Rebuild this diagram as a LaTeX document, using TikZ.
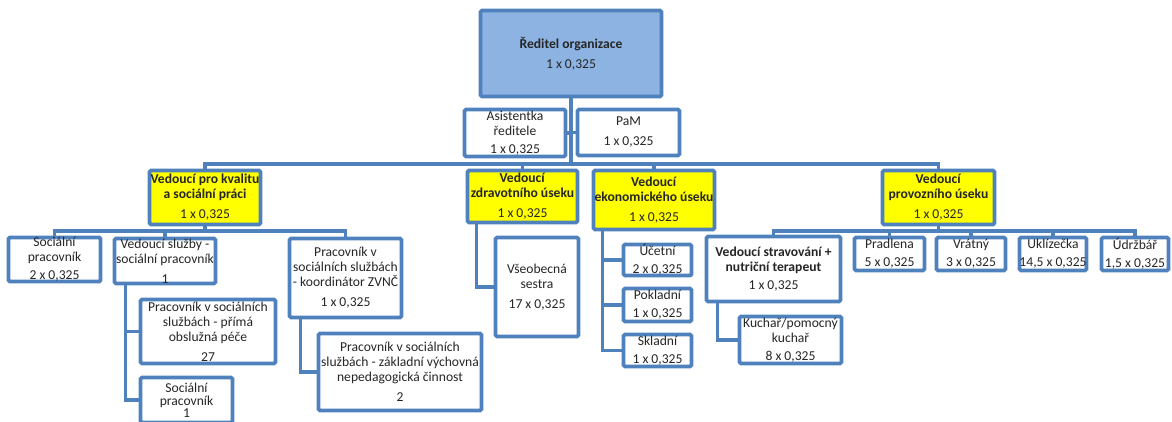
\documentclass[tikz,border=0pt]{standalone}
\usepackage{fontspec}
\setmainfont{Carlito}
\usepackage{tikz}

\definecolor{ramec}{HTML}{4F81BD}
\definecolor{modra}{HTML}{8DB3E2}
\definecolor{zluta}{HTML}{FFFF00}

\begin{document}
\begin{tikzpicture}[x=1pt,y=-1pt,
  box/.style={draw=ramec,line width=3.8pt,fill=white,rounded corners=1.5pt,align=center,inner sep=0pt,text=black!85,font=\fontsize{13.6}{15}\selectfont},
  vedouci/.style={box,fill=zluta},
  rozm/.style 2 args={minimum width=#1pt,minimum height=#2pt},
  spoj/.style={draw=ramec,line width=3.2pt}]

\useasboundingbox (0,0) rectangle (1172,421);
\clip (0,0) rectangle (1172,421);

\node[box,fill=modra,rozm={181}{86}] (red) at (571,53.5) {\textbf{Ředitel organizace}\\[5pt]1 x 0,325};
\node[box,rozm={101}{47}] (asist) at (515,133) {Asistentka\\ředitele\\[3pt]1 x 0,325};
\node[box,rozm={102}{46}] (pam) at (628.5,132.5) {PaM\\[5pt]1 x 0,325};

\node[vedouci,rozm={111}{54}] (kval) at (205,197.5) {\textbf{Vedoucí pro kvalitu}\\\textbf{a sociální práci}\\[5pt]1 x 0,325};
\node[vedouci,rozm={110}{52}] (zdrav) at (522.5,196.5) {\textbf{Vedoucí}\\\textbf{zdravotního úseku}\\[5pt]1 x 0,325};
\node[vedouci,rozm={121}{59}] (ekon) at (654,200) {\textbf{Vedoucí}\\\textbf{ekonomického úseku}\\[5pt]1 x 0,325};
\node[vedouci,rozm={112}{54}] (prov) at (938.5,197.5) {\textbf{Vedoucí}\\\textbf{provozního úseku}\\[5pt]1 x 0,325};

\node[box,rozm={92}{44}] (soc1) at (54.5,259.5) {Sociální\\pracovník\\[3pt]2 x 0,325};
\node[box,rozm={101}{45}] (sluz) at (165,261) {Vedoucí služby -\\sociální pracovník\\[5pt]1};
\node[box,rozm={112}{79}] (zvnc) at (345.5,278) {Pracovník v\\sociálních službách\\- koordinátor ZVNČ\\[5pt]1 x 0,325};
\node[box,rozm={135}{64}] (prima) at (208,331.5) {Pracovník v sociálních\\službách - přímá\\obslužná péče\\[5pt]27};
\node[box,rozm={92}{45},font=\fontsize{13.6}{13}\selectfont] (soc2) at (186.5,400) {Sociální\\pracovník\\[-1pt]1};
\node[box,rozm={163}{77}] (zakl) at (400,372) {Pracovník v sociálních\\službách - základní výchovná\\nepedagogická činnost\\[5pt]2};

\node[box,rozm={83}{99}] (sestra) at (537,287) {Všeobecná\\sestra\\[5pt]17 x 0,325};

\node[box,rozm={68}{31}] (ucet) at (657.5,260) {Účetní\\[3pt]2 x 0,325};
\node[box,rozm={68}{33}] (pokl) at (657.5,305) {Pokladní\\[3pt]1 x 0,325};
\node[box,rozm={68}{32}] (skl) at (657.5,350.5) {Skladní\\[3pt]1 x 0,325};

\node[box,rozm={134}{65}] (strav) at (773.5,269) {\textbf{Vedoucí stravování +}\\\textbf{nutriční terapeut}\\[3pt]1 x 0,325};
\node[box,rozm={102}{47}] (kuch) at (790.5,340) {Kuchař/pomocný\\kuchař\\[3pt]8 x 0,325};
\node[box,rozm={70}{33}] (pradl) at (889.5,254) {Pradlena\\[3pt]5 x 0,325};
\node[box,rozm={69}{33}] (vrat) at (971,254) {Vrátný\\[3pt]3 x 0,325};
\node[box,rozm={67}{33}] (ukl) at (1053,254) {Uklízečka\\[3pt]14,5 x 0,325};
\node[box,rozm={67}{33}] (udrz) at (1135,254) {Údržbář\\[3pt]1,5 x 0,325};

\coordinate (sbernice) at (0,164);
\coordinate (pod) at (0,231);

\draw[spoj] (red.south) -- (red.south |- sbernice);
\draw[spoj] (asist.east) -- (asist.east -| red.south);
\draw[spoj] (pam.west) -- (pam.west -| red.south);
\draw[spoj] (kval.north) -- (kval.north |- sbernice) -- (prov.north |- sbernice) -- (prov.north);
\draw[spoj] (zdrav.north) -- (zdrav.north |- sbernice);
\draw[spoj] (ekon.north) -- (ekon.north |- sbernice);

\draw[spoj] (kval.south) -- (kval.south |- pod);
\draw[spoj] (soc1.north) -- (soc1.north |- pod) -- (zvnc.north |- pod) -- (zvnc.north);
\draw[spoj] (sluz.north) -- (sluz.north |- pod);
\draw[spoj] ([xshift=13pt]sluz.south west) |- (prima.west);
\draw[spoj] ([xshift=13pt]sluz.south west) |- (soc2.west);
\draw[spoj] ([xshift=13pt]zvnc.south west) |- (zakl.west);

\draw[spoj] ([xshift=11pt]zdrav.south west) |- (sestra.west);

\draw[spoj] ([xshift=11pt]ekon.south west) |- (ucet.west);
\draw[spoj] ([xshift=11pt]ekon.south west) |- (pokl.west);
\draw[spoj] ([xshift=11pt]ekon.south west) |- (skl.west);

\draw[spoj] (prov.south) -- (prov.south |- pod);
\draw[spoj] (strav.north) -- (strav.north |- pod) -- (udrz.north |- pod) -- (udrz.north);
\foreach \n in {pradl,vrat,ukl}
  \draw[spoj] (\n.north) -- (\n.north |- pod);
\draw[spoj] ([xshift=13pt]strav.south west) |- (kuch.west);

\end{tikzpicture}
\end{document}
